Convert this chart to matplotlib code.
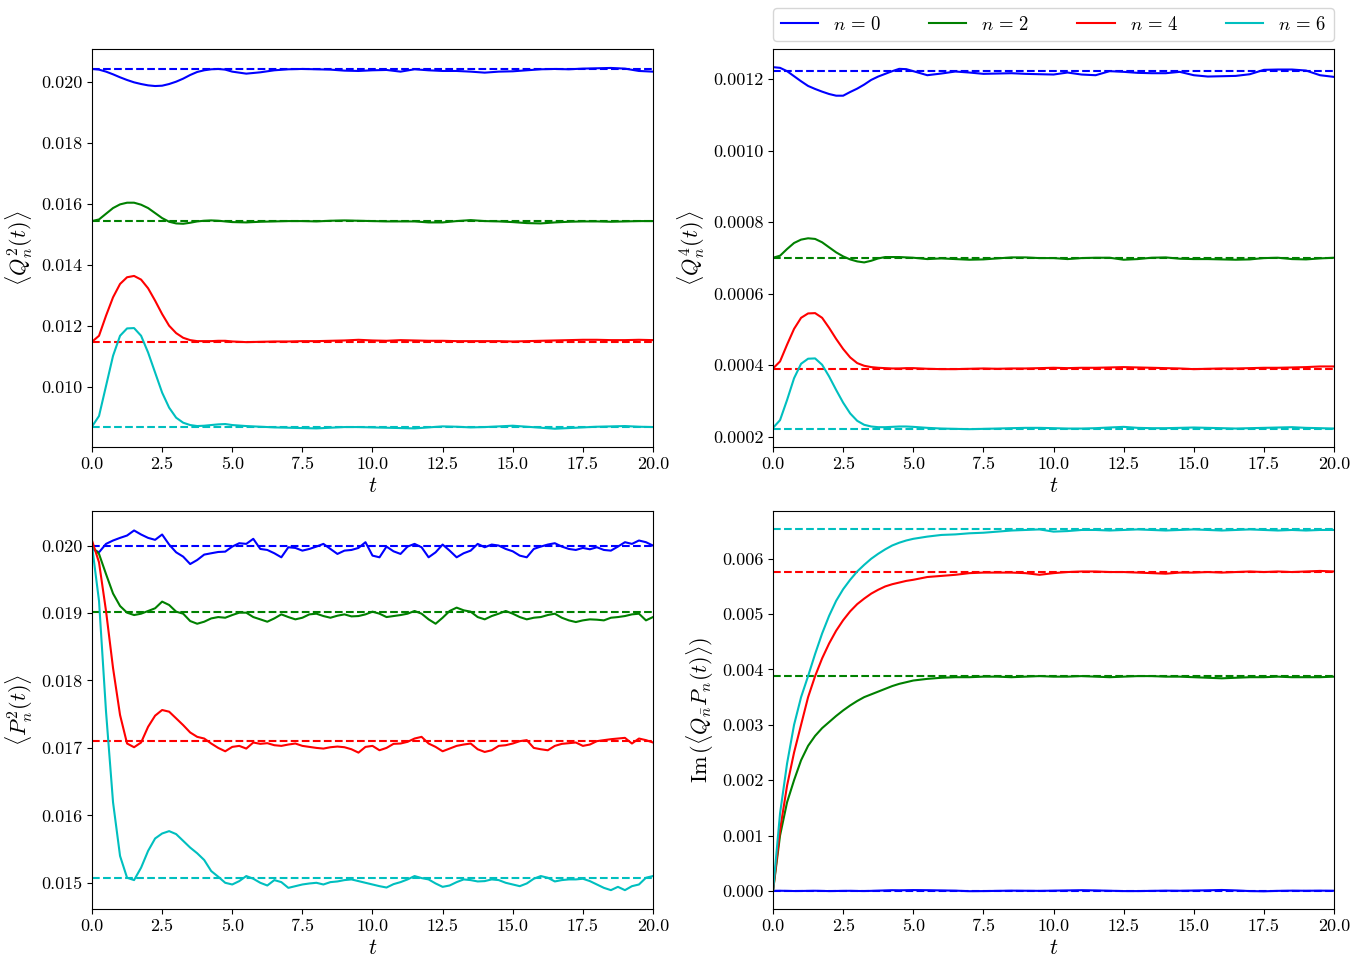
import numpy as np
import matplotlib
matplotlib.use("Agg")
import matplotlib.pyplot as plt

plt.rcParams['font.family'] = 'serif'
plt.rcParams['font.serif'] = ['cmr10']
plt.rcParams['mathtext.fontset'] = 'cm'
plt.rcParams['axes.unicode_minus'] = False

# sample times: 0.25 steps up to t=5 then 0.5 steps (panels 1, 2, 4), 0.25 steps (panel 3)
t_a = np.concatenate([np.arange(0, 5.01, 0.25), np.arange(5.5, 20.01, 0.5)])
t_b = np.arange(0, 20.01, 0.25)

labels = [r'$n\,=\,0$', r'$n\,=\,2$', r'$n\,=\,4$', r'$n\,=\,6$']
colors = ['b', 'g', 'r', 'c']

# <Q_n^2(t)>
q2_n0 = [0.020417, 0.020395, 0.020329, 0.020241, 0.020143, 0.020055, 0.019978, 0.019923, 0.019879, 0.019857,
         0.019868, 0.019923, 0.020000, 0.020099, 0.020219, 0.020318, 0.020373, 0.020406, 0.020417, 0.020395, 0.020329,
         0.020263, 0.020307, 0.020373, 0.020406, 0.020417, 0.020406, 0.020395, 0.020362, 0.020351, 0.020373,
         0.020384, 0.020329, 0.020406, 0.020373, 0.020351, 0.020351, 0.020329, 0.020296, 0.020329, 0.020340,
         0.020373, 0.020406, 0.020417, 0.020406, 0.020428, 0.020439, 0.020450, 0.020428, 0.020351, 0.020329]
q2_n2 = [0.015428, 0.015482, 0.015669, 0.015855, 0.015976, 0.016031, 0.016031, 0.015965, 0.015855, 0.015691,
         0.015526, 0.015406, 0.015351, 0.015340, 0.015373, 0.015417, 0.015439, 0.015450, 0.015439, 0.015417, 0.015395,
         0.015384, 0.015406, 0.015417, 0.015428, 0.015428, 0.015417, 0.015439, 0.015450, 0.015439, 0.015428,
         0.015417, 0.015417, 0.015417, 0.015384, 0.015384, 0.015428, 0.015460, 0.015428, 0.015417, 0.015395,
         0.015362, 0.015351, 0.015384, 0.015406, 0.015417, 0.015417, 0.015406, 0.015417, 0.015428, 0.015428]
q2_n4 = [0.011469, 0.011667, 0.012325, 0.012928, 0.013366, 0.013586, 0.013629, 0.013509, 0.013224, 0.012818,
         0.012379, 0.011996, 0.011754, 0.011601, 0.011524, 0.011491, 0.011491, 0.011491, 0.011502, 0.011502, 0.011480,
         0.011458, 0.011469, 0.011480, 0.011480, 0.011491, 0.011491, 0.011502, 0.011513, 0.011535, 0.011513,
         0.011502, 0.011524, 0.011513, 0.011502, 0.011502, 0.011491, 0.011491, 0.011491, 0.011491, 0.011480,
         0.011491, 0.011502, 0.011513, 0.011524, 0.011535, 0.011535, 0.011524, 0.011524, 0.011535, 0.011524]
q2_n6 = [0.008690, 0.009035, 0.010022, 0.011009, 0.011667, 0.011908, 0.011919, 0.011667, 0.011118, 0.010460,
         0.009803, 0.009309, 0.008980, 0.008816, 0.008739, 0.008706, 0.008717, 0.008739, 0.008761, 0.008772, 0.008739,
         0.008706, 0.008684, 0.008662, 0.008651, 0.008640, 0.008629, 0.008651, 0.008673, 0.008673, 0.008662,
         0.008651, 0.008640, 0.008629, 0.008662, 0.008695, 0.008684, 0.008662, 0.008673, 0.008695, 0.008717,
         0.008684, 0.008651, 0.008618, 0.008640, 0.008662, 0.008684, 0.008695, 0.008706, 0.008684, 0.008673]
q2_eq = [0.02042, 0.01543, 0.01147, 0.008684]

# <Q_n^4(t)>
q4_n0 = [0.0012328, 0.0012309, 0.0012216, 0.0012075, 0.0011934, 0.0011803, 0.0011719, 0.0011644, 0.0011578,
         0.0011531, 0.0011531, 0.0011634, 0.0011728, 0.0011841, 0.0011972, 0.0012066, 0.0012141, 0.0012216,
         0.0012281, 0.0012272, 0.0012216,
         0.0012103, 0.0012150, 0.0012206, 0.0012178, 0.0012141, 0.0012150, 0.0012159, 0.0012141, 0.0012131,
         0.0012122, 0.0012178, 0.0012122, 0.0012103, 0.0012216, 0.0012197, 0.0012169, 0.0012159, 0.0012159,
         0.0012197, 0.0012103, 0.0012066, 0.0012075, 0.0012084, 0.0012131, 0.0012253, 0.0012262, 0.0012262,
         0.0012234, 0.0012103, 0.0012056]
q4_n2 = [0.0007005, 0.0007061, 0.0007248, 0.0007417, 0.0007511, 0.0007548, 0.0007530, 0.0007436, 0.0007295,
         0.0007155, 0.0007042, 0.0006958, 0.0006902, 0.0006874, 0.0006920, 0.0006986, 0.0007024, 0.0007024,
         0.0007024, 0.0007014, 0.0007005,
         0.0006967, 0.0006986, 0.0006967, 0.0006949, 0.0006958, 0.0006986, 0.0007014, 0.0007014, 0.0006995,
         0.0006995, 0.0006967, 0.0006995, 0.0007005, 0.0007005, 0.0006949, 0.0006967, 0.0007005, 0.0007014,
         0.0006977, 0.0006967, 0.0006967, 0.0006958, 0.0006949, 0.0006958, 0.0006995, 0.0007005, 0.0006967,
         0.0006958, 0.0006986, 0.0007005]
q4_n4 = [0.0003912, 0.0004109, 0.0004577, 0.0005018, 0.0005327, 0.0005449, 0.0005458, 0.0005327, 0.0005046,
         0.0004737, 0.0004456, 0.0004221, 0.0004062, 0.0003987, 0.0003950, 0.0003931, 0.0003921, 0.0003912,
         0.0003912, 0.0003921, 0.0003921,
         0.0003903, 0.0003893, 0.0003893, 0.0003903, 0.0003912, 0.0003903, 0.0003912, 0.0003912, 0.0003921,
         0.0003931, 0.0003921, 0.0003931, 0.0003931, 0.0003940, 0.0003950, 0.0003940, 0.0003931, 0.0003921,
         0.0003912, 0.0003893, 0.0003903, 0.0003912, 0.0003912, 0.0003921, 0.0003931, 0.0003931, 0.0003940,
         0.0003950, 0.0003968, 0.0003968]
q4_n6 = [0.0002253, 0.0002469, 0.0003031, 0.0003640, 0.0004043, 0.0004184, 0.0004193, 0.0004015, 0.0003687,
         0.0003312, 0.0002956, 0.0002656, 0.0002450, 0.0002338, 0.0002291, 0.0002272, 0.0002272, 0.0002281,
         0.0002291, 0.0002291, 0.0002281,
         0.0002253, 0.0002234, 0.0002225, 0.0002216, 0.0002225, 0.0002234, 0.0002244, 0.0002253, 0.0002253,
         0.0002244, 0.0002234, 0.0002234, 0.0002244, 0.0002263, 0.0002281, 0.0002253, 0.0002244, 0.0002244,
         0.0002253, 0.0002263, 0.0002253, 0.0002244, 0.0002234, 0.0002244, 0.0002253, 0.0002263, 0.0002272,
         0.0002253, 0.0002244, 0.0002234]
q4_eq = [0.0012234, 0.0007005, 0.0003893, 0.0002234]

# <P_n^2(t)>
p2_n0 = [0.019950, 0.019900, 0.020025, 0.020075, 0.020114, 0.020149, 0.020224, 0.020164, 0.020114, 0.020085,
         0.020164, 0.020015, 0.019900, 0.019836, 0.019726, 0.019786, 0.019866, 0.019886, 0.019905, 0.019910,
         0.019985, 0.020035, 0.020025, 0.020100, 0.019950, 0.019935, 0.019886, 0.019826, 0.019975, 0.019965,
         0.019925, 0.019950, 0.019985, 0.020025, 0.019950, 0.019876, 0.019925, 0.019935, 0.019965, 0.020050,
         0.019851, 0.019826, 0.019985, 0.019915, 0.019876, 0.019985, 0.020025, 0.019975, 0.019826, 0.019900,
         0.020015, 0.019925, 0.019826, 0.019886, 0.019925, 0.020025, 0.019975, 0.020015, 0.020000, 0.019950,
         0.019915, 0.019851, 0.019826, 0.019950, 0.019985, 0.020015, 0.020035, 0.019985, 0.019950, 0.019935,
         0.019965, 0.019945, 0.019975, 0.019935, 0.019925, 0.019985, 0.020050, 0.020025, 0.020075, 0.020050,
         0.020000]
p2_n2 = [0.019985, 0.019876, 0.019577, 0.019289, 0.019104, 0.019005, 0.018970, 0.018990, 0.019030, 0.019070,
         0.019169, 0.019119, 0.019020, 0.018990, 0.018881, 0.018841, 0.018871, 0.018920, 0.018940, 0.018930,
         0.018970, 0.019005, 0.019005, 0.018940, 0.018906, 0.018871, 0.018920, 0.018980, 0.018940, 0.018906,
         0.018930, 0.018980, 0.018990, 0.018955, 0.018930, 0.018960, 0.018980, 0.018950, 0.018955, 0.018980,
         0.019020, 0.018990, 0.018940, 0.018955, 0.018970, 0.018990, 0.019030, 0.018990, 0.018906, 0.018841,
         0.018930, 0.019030, 0.019080, 0.019040, 0.019020, 0.018940, 0.018906, 0.018955, 0.018990, 0.019030,
         0.018990, 0.018940, 0.018906, 0.018930, 0.018940, 0.018970, 0.018990, 0.018930, 0.018891, 0.018866,
         0.018891, 0.018906, 0.018901, 0.018891, 0.018930, 0.018940, 0.018955, 0.018980, 0.018990, 0.018891,
         0.018940]
p2_n4 = [0.020075, 0.019751, 0.019030, 0.018184, 0.017488, 0.017065, 0.017010, 0.017080, 0.017313, 0.017478,
         0.017562, 0.017537, 0.017438, 0.017338, 0.017229, 0.017164, 0.017139, 0.017065, 0.017000, 0.016950,
         0.017015, 0.017030, 0.016990, 0.017080, 0.017060, 0.017070, 0.017040, 0.017030, 0.017050, 0.017065,
         0.017030, 0.017015, 0.017000, 0.016990, 0.017010, 0.017020, 0.017010, 0.016980, 0.016930, 0.017015,
         0.017030, 0.016965, 0.017000, 0.017060, 0.017065, 0.017090, 0.017139, 0.017164, 0.017065, 0.017015,
         0.016950, 0.016990, 0.017030, 0.017050, 0.017065, 0.016980, 0.016940, 0.016965, 0.017030, 0.017040,
         0.017065, 0.017100, 0.017115, 0.017000, 0.016980, 0.016965, 0.017030, 0.017060, 0.017070, 0.017080,
         0.017030, 0.017050, 0.017100, 0.017115, 0.017129, 0.017139, 0.017149, 0.017065, 0.017139, 0.017115,
         0.017080]
p2_n6 = [0.020000, 0.019179, 0.017537, 0.016194, 0.015398, 0.015075, 0.015040, 0.015224, 0.015473, 0.015657,
         0.015731, 0.015766, 0.015722, 0.015622, 0.015522, 0.015438, 0.015338, 0.015174, 0.015090, 0.015000,
         0.014975, 0.015025, 0.015100, 0.015060, 0.015000, 0.014960, 0.015040, 0.015010, 0.014925, 0.014950,
         0.014975, 0.014990, 0.015000, 0.014975, 0.015010, 0.015020, 0.015040, 0.015050, 0.015025, 0.015000,
         0.014975, 0.014950, 0.014930, 0.014980, 0.015010, 0.015050, 0.015100, 0.015070, 0.015050, 0.014990,
         0.014940, 0.014960, 0.015010, 0.015050, 0.015040, 0.015020, 0.015025, 0.015050, 0.015040, 0.015000,
         0.014975, 0.014950, 0.014990, 0.015060, 0.015100, 0.015075, 0.015020, 0.015040, 0.015050, 0.015050,
         0.015060, 0.015025, 0.014975, 0.014925, 0.014891, 0.014940, 0.014891, 0.014950, 0.014975, 0.015075,
         0.015100]
p2_eq = [0.020000, 0.019020, 0.017104, 0.015070]

# Im <Q_nbar P_n(t)>
qp_n0 = [0.0, 0.000002, 0.0, -0.000003, -0.000002, 0.0, 0.000002, -0.000001, -0.000004, -0.000002, 0.0,
         0.000001, -0.000002, -0.000003, 0.0, 0.000004, 0.000008, 0.000012, 0.000010, 0.000012, 0.000014,
         0.000012, 0.000008, 0.000004, -0.000006, -0.000004, 0.0, 0.000004, 0.000002, 0.0, 0.000004,
         0.000008, 0.000012, 0.000008, 0.000002, -0.000004, -0.000004, 0.0, 0.000004, 0.000002, 0.000006,
         0.000010, 0.000016, 0.000008, -0.000004, -0.000008, 0.0, 0.000004, 0.000002, 0.000004, 0.000002]
qp_n2 = [0.0, 0.0010, 0.0016, 0.0020, 0.00236, 0.00262, 0.00280, 0.00294, 0.00305, 0.00316, 0.00326,
         0.00335, 0.00343, 0.00350, 0.00355, 0.00360, 0.00365, 0.00370, 0.00374, 0.00377, 0.00380,
         0.00383, 0.00385, 0.00386, 0.00386, 0.00387, 0.00387, 0.00386, 0.00387, 0.00388, 0.00387,
         0.00387, 0.00388, 0.00387, 0.00386, 0.00387, 0.00388, 0.00388, 0.00387, 0.00387, 0.00386,
         0.00385, 0.00384, 0.00385, 0.00386, 0.00386, 0.00387, 0.00386, 0.00386, 0.00386, 0.00387]
qp_n4 = [0.0, 0.0011, 0.0019, 0.0025, 0.0030, 0.0035, 0.00388, 0.0042, 0.00447, 0.00470, 0.00489,
         0.00505, 0.00518, 0.00528, 0.00537, 0.00544, 0.00550, 0.00554, 0.00557, 0.00560, 0.00562,
         0.00567, 0.00569, 0.00571, 0.00574, 0.00575, 0.00575, 0.00575, 0.00574, 0.00571, 0.00574,
         0.00576, 0.00577, 0.00577, 0.00576, 0.00576, 0.00575, 0.00574, 0.00573, 0.00575, 0.00575,
         0.00576, 0.00575, 0.00576, 0.00577, 0.00576, 0.00577, 0.00576, 0.00577, 0.00578, 0.00577]
qp_n6 = [0.0, 0.0014, 0.0023, 0.0030, 0.0035, 0.00388, 0.00428, 0.00465, 0.00497, 0.00524, 0.00545,
         0.00562, 0.00577, 0.00589, 0.00600, 0.00609, 0.00617, 0.00624, 0.00629, 0.00633, 0.00636,
         0.00640, 0.00643, 0.00644, 0.00646, 0.00647, 0.00649, 0.00651, 0.00652, 0.00653, 0.00649,
         0.00650, 0.00652, 0.00652, 0.00651, 0.00652, 0.00653, 0.00652, 0.00651, 0.00652, 0.00653,
         0.00652, 0.00651, 0.00652, 0.00653, 0.00652, 0.00651, 0.00652, 0.00651, 0.00652, 0.00652]
qp_eq = [0.0, 0.003877, 0.005765, 0.006535]

panels = [
    (t_a, [q2_n0, q2_n2, q2_n4, q2_n6], q2_eq, r'$\langle Q_n^2(t)\rangle$', (0.00802, 0.02107)),
    (t_a, [q4_n0, q4_n2, q4_n4, q4_n6], q4_eq, r'$\langle Q_n^4(t)\rangle$', (0.0001719, 0.0012834)),
    (t_b, [p2_n0, p2_n2, p2_n4, p2_n6], p2_eq, r'$\langle P_n^2(t)\rangle$', (0.014612, 0.020512)),
    (t_a, [qp_n0, qp_n2, qp_n4, qp_n6], qp_eq, r'$\mathrm{Im}\,(\langle Q_{\bar{n}}P_n(t)\rangle)$', (-0.000327, 0.006862)),
]

fig, axes = plt.subplots(2, 2, figsize=(13.65, 9.56), dpi=100)
fig.subplots_adjust(left=0.0674, right=0.9773, top=0.9487, bottom=0.0492, wspace=0.214, hspace=0.161)

for ax, (t, series, eq, ylab, ylim) in zip(axes.flat, panels):
    for y, e, c, lab in zip(series, eq, colors, labels):
        ax.plot(t, y, color=c, lw=1.5, label=lab)
        ax.axhline(e, color=c, ls='--', lw=1.5)
    ax.set_xlim(0, 20)
    ax.set_ylim(*ylim)
    ax.set_xlabel('$t$', fontsize=16, labelpad=3)
    ax.set_ylabel(ylab, fontsize=16)
    ax.tick_params(labelsize=13)

axes[0, 1].legend(bbox_to_anchor=(0., 1.02, 1., .102), loc='lower left', ncol=4,
                  mode='expand', borderaxespad=0., fontsize=13.5)

fig.savefig('out.png', dpi=100)
